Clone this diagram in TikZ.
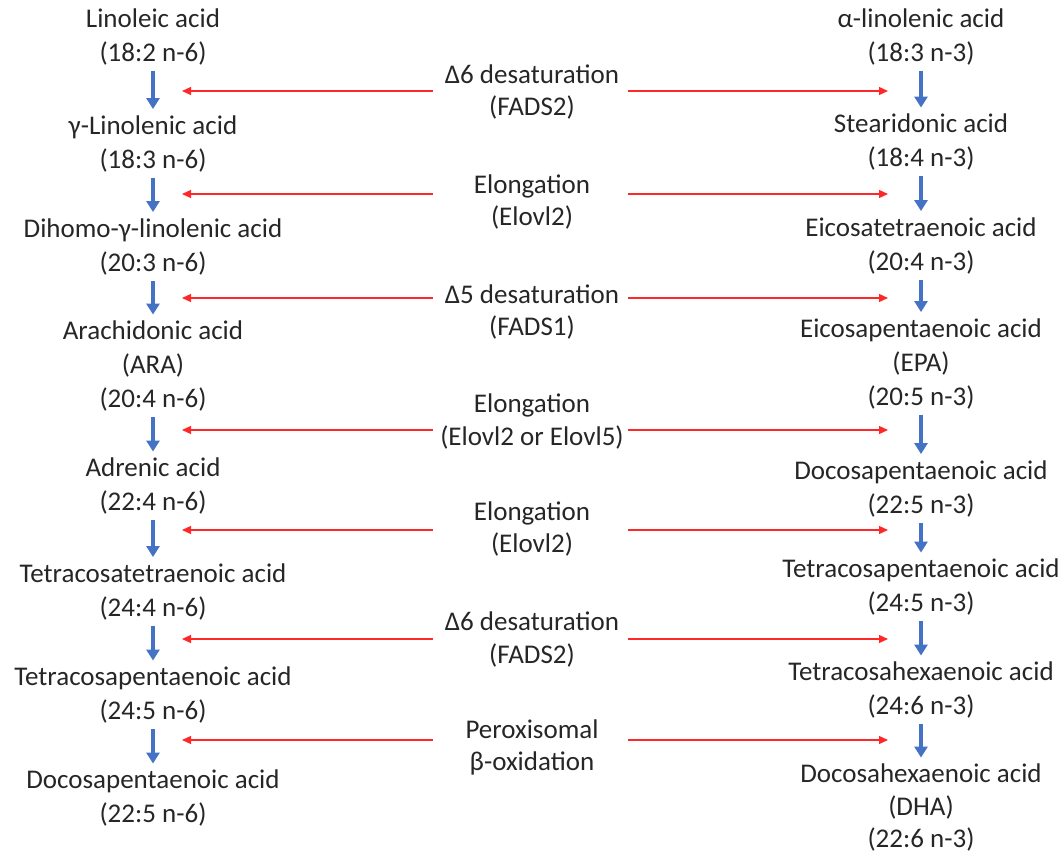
\documentclass[tikz,border=0pt]{standalone}
\usepackage{fontspec}
\setmainfont{Carlito}
\usetikzlibrary{arrows.meta}
\definecolor{officeblue}{RGB}{68,114,196}
\definecolor{arrred}{RGB}{255,40,40}
\begin{document}
\begin{tikzpicture}[x=1pt,y=1pt,
  acid/.style={align=center,inner sep=0pt,text=black!85,font=\fontsize{27}{34}\selectfont},
  enzyme/.style={align=center,inner sep=0pt,text=black!85,font=\fontsize{27}{32.5}\selectfont},
  bluearrow/.style={draw=officeblue,line width=3.2pt,-{Triangle[width=13pt,length=11pt]},shorten <=6pt,shorten >=6pt},
  redarrow/.style={draw=arrred,line width=1.3pt,-{Triangle[width=8pt,length=9pt]}}]
\useasboundingbox (0,0) rectangle (1063,-853);
% left column
\node[acid] (L1) at (153,-37) {Linoleic acid\\(18:2 n-6)};
\node[acid] (L2) at (153,-143.5) {γ-Linolenic acid\\(18:3 n-6)};
\node[acid] (L3) at (153,-246.5) {Dihomo-γ-linolenic acid\\(20:3 n-6)};
\node[acid] (L4) at (153,-366) {Arachidonic acid\\(ARA)\\(20:4 n-6)};
\node[acid] (L5) at (153,-486) {Adrenic acid\\(22:4 n-6)};
\node[acid] (L6) at (153,-591.5) {Tetracosatetraenoic acid\\(24:4 n-6)};
\node[acid] (L7) at (153,-695) {Tetracosapentaenoic acid\\(24:5 n-6)};
\node[acid] (L8) at (153,-798) {Docosapentaenoic acid\\(22:5 n-6)};
% right column
\node[acid] (R1) at (921,-37) {α-linolenic acid\\(18:3 n-3)};
\node[acid] (R2) at (921,-142) {Stearidonic acid\\(18:4 n-3)};
\node[acid] (R3) at (921,-245.5) {Eicosatetraenoic acid\\(20:4 n-3)};
\node[acid] (R4) at (921,-363.5) {Eicosapentaenoic acid\\(EPA)\\(20:5 n-3)};
\node[acid] (R5) at (921,-488.5) {Docosapentaenoic acid\\(22:5 n-3)};
\node[acid] (R6) at (921,-587) {Tetracosapentaenoic acid\\(24:5 n-3)};
\node[acid] (R7) at (921,-690) {Tetracosahexaenoic acid\\(24:6 n-3)};
\node[acid,font=\fontsize{27}{32.5}\selectfont] (R8) at (921,-807.5) {Docosahexaenoic acid\\(DHA)\\(22:6 n-3)};
% centre labels
\node[enzyme] (C1) at (532,-92) {Δ6 desaturation\\(FADS2)};
\node[enzyme] (C2) at (532,-202) {Elongation\\(Elovl2)};
\node[enzyme] (C3) at (532,-312) {Δ5 desaturation\\(FADS1)};
\node[enzyme] (C4) at (532,-421.5) {Elongation\\(Elovl2 or Elovl5)};
\node[enzyme] (C5) at (532,-529) {Elongation\\(Elovl2)};
\node[enzyme] (C6) at (532,-639.5) {Δ6 desaturation\\(FADS2)};
\node[enzyme] (C7) at (532,-747.5) {Peroxisomal\\β-oxidation};
% blue arrows
\foreach \a/\b in {L1/L2,L2/L3,L3/L4,L4/L5,L5/L6,L6/L7,L7/L8,R1/R2,R2/R3,R3/R4,R4/R5,R5/R6,R6/R7,R7/R8}
  \draw[bluearrow] (\a.south) -- (\b.north);
% red arrows
\foreach \i/\y in {1/91,2/194,3/298,4/430,5/530,6/639,7/740}{
  \coordinate (ls\i) at (433,-\y);
  \coordinate (le\i) at (182,-\y);
  \coordinate (rs\i) at (628,-\y);
  \coordinate (re\i) at (888,-\y);
  \draw[redarrow] (ls\i) -- (le\i);
  \draw[redarrow] (rs\i) -- (re\i);
}
\end{tikzpicture}
\end{document}
